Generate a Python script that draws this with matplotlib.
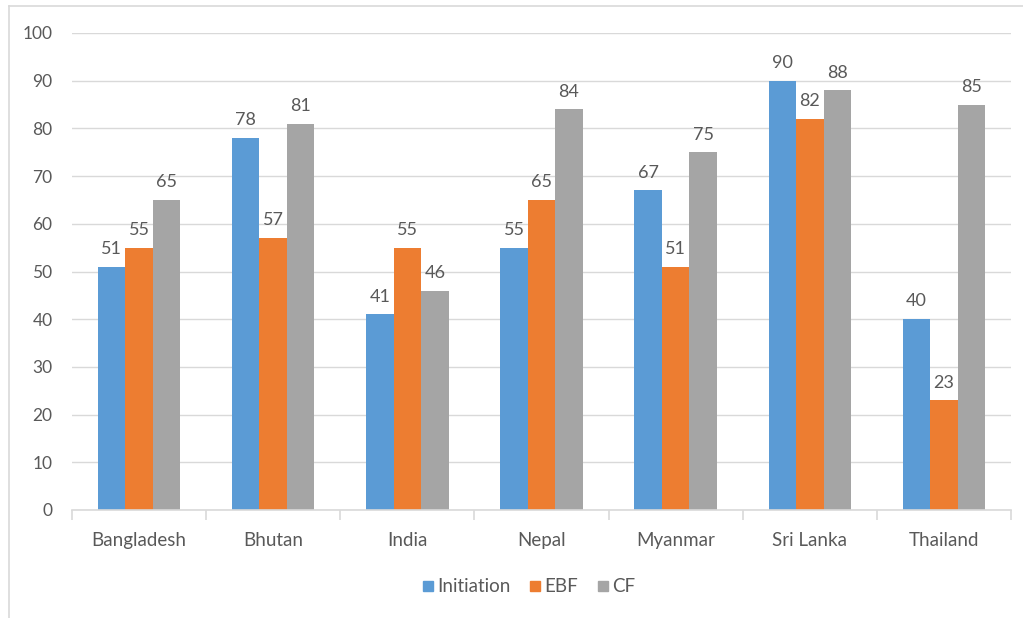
import matplotlib.pyplot as plt
import numpy as np
from matplotlib.lines import Line2D

plt.rcParams['font.family'] = ['Lato', 'DejaVu Sans']

countries = ['Bangladesh', 'Bhutan', 'India', 'Nepal', 'Myanmar', 'Sri Lanka', 'Thailand']
initiation = [51, 78, 41, 55, 67, 90, 40]
ebf = [55, 57, 55, 65, 51, 82, 23]
cf = [65, 81, 46, 84, 75, 88, 85]

series = [('Initiation', initiation, '#5B9BD5'),
          ('EBF', ebf, '#ED7D31'),
          ('CF', cf, '#A5A5A5')]

txt = '#595959'
grid = '#D9D9D9'

fig = plt.figure(figsize=(10.23, 6.18), dpi=100)
ax = fig.add_axes([72/1023, 1-510/618, (1011-72)/1023, (510-33)/618])

x = np.arange(len(countries))
w = 0.205
for i, (name, vals, col) in enumerate(series):
    pos = x + (i - 1) * w
    bars = ax.bar(pos, vals, w, color=col, label=name, zorder=2)
    for xp, v in zip(pos, vals):
        ax.annotate(str(v), (xp, v), xytext=(0, 7), textcoords='offset points',
                    ha='center', va='bottom', fontsize=13, color=txt)

ax.set_xlim(-0.5, len(countries) - 0.5)
ax.set_ylim(0, 100)
ax.set_yticks(range(0, 101, 10))
ax.yaxis.grid(True, color=grid, lw=1, zorder=0)
ax.set_axisbelow(True)

for s in ['top', 'right', 'left']:
    ax.spines[s].set_visible(False)
ax.spines['bottom'].set_color(grid)
ax.spines['bottom'].set_linewidth(1.2)

ax.set_xticks(x)
ax.set_xticklabels(countries)
ax.set_xticks(np.arange(-0.5, len(countries)), minor=True)
ax.tick_params(axis='x', which='major', length=0, pad=16, labelsize=13.5, labelcolor=txt)
ax.tick_params(axis='x', which='minor', length=7, color=grid, width=1.2)
ax.tick_params(axis='y', length=0, pad=14, labelsize=12.5, labelcolor=txt)

handles = [Line2D([], [], marker='s', ls='', markersize=7, color=c) for _, _, c in series]
fig.legend(handles, [n for n, _, _ in series], loc='center', bbox_to_anchor=(527/1023, 1-587/618),
           ncol=3, frameon=False, fontsize=13.5, labelcolor=txt, handletextpad=0.0,
           columnspacing=0.8, handlelength=1.0)

# outer frame: top and left edges only
fig.add_artist(Line2D([9/1023, 1], [1-6/618, 1-6/618], color=grid, lw=1.2, transform=fig.transFigure))
fig.add_artist(Line2D([9/1023, 9/1023], [0, 1-6/618], color=grid, lw=1.2, transform=fig.transFigure))

fig.savefig('out.png', dpi=100)
